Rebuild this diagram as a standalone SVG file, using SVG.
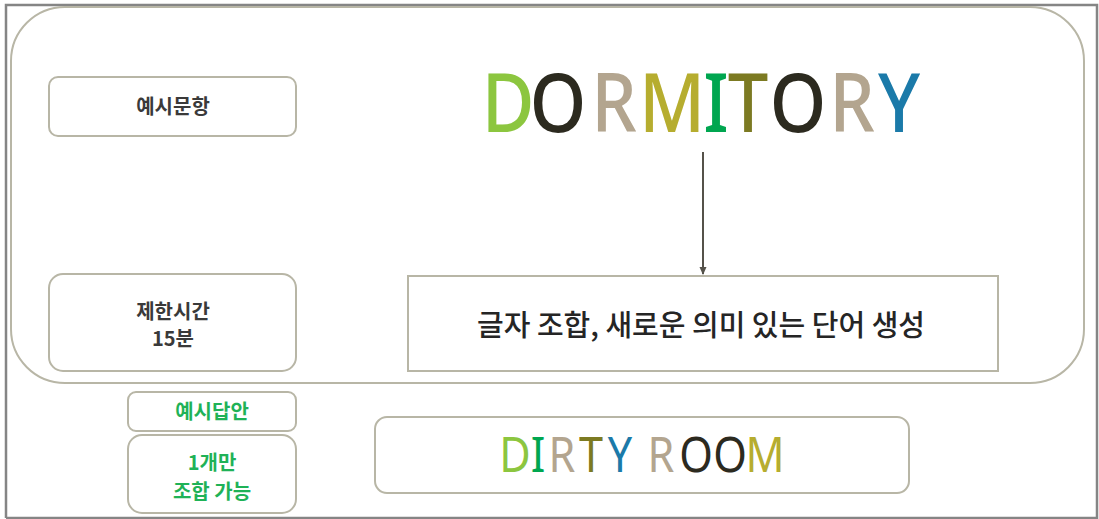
<svg xmlns="http://www.w3.org/2000/svg" width="1099" height="519" viewBox="0 0 1099 519">
<style>
.box{fill:#fff;stroke:#b8b6a6;stroke-width:2}
.kr{font-family:"Noto Sans CJK KR","Noto Sans",sans-serif;text-anchor:middle}
.lbl{font-size:20px;fill:#3a3a3a;font-weight:700}
.grn{font-size:20px;fill:#1fb257;font-weight:700}
.big{font-family:"Noto Sans","DejaVu Sans",sans-serif;text-anchor:middle;font-weight:500}
.d1 text{font-size:82px}
.d2 text{font-size:49px;font-weight:400}
.c1{fill:#8cc63f}.c2{fill:#2c2a1f}.c3{fill:#b3a58f}.c4{fill:#b6ad2f}.c5{fill:#00a650}.c6{fill:#7c7a22}.c7{fill:#1b7aa9}
</style>
<defs>
<marker id="ah" markerWidth="8" markerHeight="8" refX="7" refY="4" orient="auto" markerUnits="userSpaceOnUse"><path d="M0,0.5 L8,4 L0,7.5 z" fill="#55524a"/></marker>
</defs>
<rect x="0" y="0" width="1099" height="519" fill="#fff"/>
<g id="frame"><path d="M6,518 L6,5 L1097,5 L1097,518 L6,518" fill="none" stroke="#858585" stroke-width="2.5"/></g>
<g id="container"><rect class="box" x="11" y="7" width="1073" height="376" rx="54"/></g>
<g id="n-example-q"><rect class="box" x="49" y="77" width="247" height="59" rx="9"/><text class="kr lbl" x="173" y="114">예시문항</text></g>
<g id="n-time"><rect class="box" x="49" y="274" width="247" height="97" rx="14"/><text class="kr lbl" x="173" y="319">제한시간</text><text class="kr lbl" x="173" y="346">15분</text></g>
<g id="n-example-a"><rect class="box" x="128" y="392" width="168" height="39" rx="8"/><text class="kr grn" x="212" y="419">예시답안</text></g>
<g id="n-one"><rect class="box" x="128" y="435" width="168" height="78" rx="14"/><text class="kr grn" x="212" y="470">1개만</text><text class="kr grn" x="212" y="499">조합 가능</text></g>
<g id="n-dormitory" class="big d1">
<text class="c1" transform="translate(508,132) scale(0.88,1)">D</text>
<text class="c2" transform="translate(558,132) scale(0.88,1)">O</text>
<text class="c3" transform="translate(614,132) scale(0.88,1)">R</text>
<text class="c4" transform="translate(672,132) scale(0.88,1)">M</text>
<text class="c5" transform="translate(716,132) scale(0.88,1)">I</text>
<text class="c6" transform="translate(748,132) scale(0.88,1)">T</text>
<text class="c2" transform="translate(798,132) scale(0.88,1)">O</text>
<text class="c3" transform="translate(852,132) scale(0.88,1)">R</text>
<text class="c7" transform="translate(899,132) scale(0.88,1)">Y</text>
</g>
<g id="n-combine"><rect x="408" y="276" width="590" height="95" fill="#fff" stroke="#b8b6a6" stroke-width="2"/><text class="kr" x="701" y="336" font-size="29" fill="#252525" font-weight="500">글자 조합, 새로운 의미 있는 단어 생성</text></g>
<g id="n-dirtyroom"><rect class="box" x="375" y="417" width="534" height="76" rx="12"/>
<g class="big d2">
<text class="c1" transform="translate(515,472) scale(0.88,1)">D</text>
<text class="c5" transform="translate(538,472) scale(0.88,1)">I</text>
<text class="c3" transform="translate(562,472) scale(0.88,1)">R</text>
<text class="c6" transform="translate(591,472) scale(0.88,1)">T</text>
<text class="c7" transform="translate(620,472) scale(0.88,1)">Y</text>
<text class="c3" transform="translate(661,472) scale(0.88,1)">R</text>
<text class="c2" transform="translate(696,472) scale(0.88,1)">O</text>
<text class="c2" transform="translate(730,472) scale(0.88,1)">O</text>
<text class="c4" transform="translate(765,472) scale(0.88,1)">M</text>
</g></g>
<g id="connectors"><line x1="703" y1="152" x2="703" y2="274" stroke="#55524a" stroke-width="2" marker-end="url(#ah)"/></g>
</svg>
